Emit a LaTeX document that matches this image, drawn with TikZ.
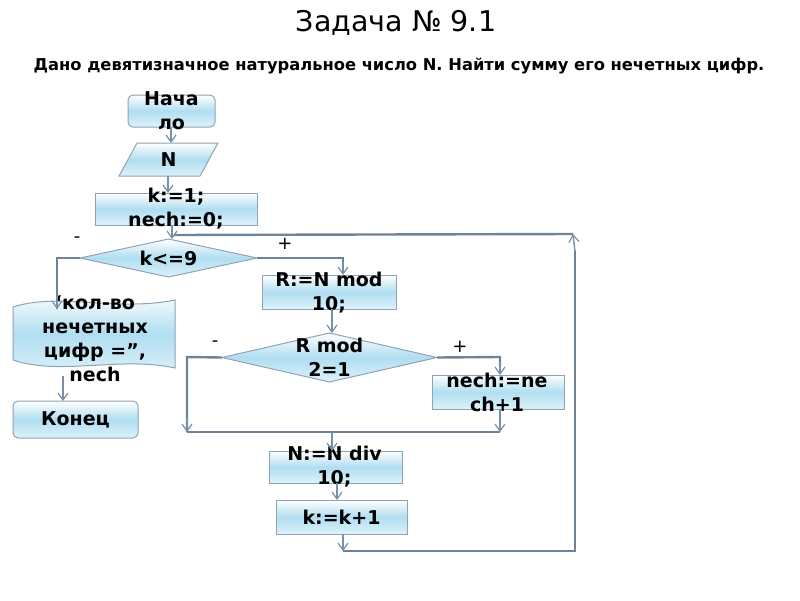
\documentclass[tikz,border=0pt]{standalone}
\usepackage{fontspec}
\setmainfont{DejaVu Sans}
\usetikzlibrary{shapes.geometric,arrows.meta}
\definecolor{bordc}{HTML}{8FA3B5}
\definecolor{linec}{HTML}{6E8395}
\definecolor{arrc}{HTML}{7890A8}
\definecolor{fillmid}{HTML}{B0DEF1}
\definecolor{fillbot}{HTML}{DDF2FA}
\begin{document}
\begin{tikzpicture}[x=1pt,y=-1pt,
  blk/.style={draw=bordc,line width=1pt,top color=white,bottom color=fillbot,middle color=fillmid,inner sep=0pt,outer sep=0pt},
  rbox/.style={blk,rectangle,minimum width=#1},
  txt/.style={font=\fontsize{19}{24}\selectfont\bfseries,align=center,text=black,inner sep=0pt},
  conn/.style={draw=linec,line width=2.4pt},
  arr/.style={draw=arrc,line width=1.4pt,-{Straight Barb[length=7pt,width=10pt,line width=1.2pt]}},
  sgn/.style={font=\fontsize{18}{20}\selectfont,text=black,inner sep=0pt}
]
\useasboundingbox (0,0) rectangle (800,600);
\node[font=\fontsize{28.5}{30}\selectfont] (title) at (396,23) {Задача № 9.1};
\node[font=\fontsize{16.3}{18}\selectfont\bfseries] (sub) at (399,66) {Дано девятизначное натуральное число N. Найти сумму его нечетных цифр.};

% blocks
\node[blk,rectangle,rounded corners=5pt,minimum width=87pt,minimum height=32pt,
  label={[txt,name=startt]center:Нача\\ло}] (start) at (171.5,111) {};
\path[blk] (137,143) -- (218,143) -- (200,176) -- (119,176) -- cycle;
\node[txt] (inp) at (168.5,159.5) {N};
\node[rbox=162pt,minimum height=32pt,label={[txt,name=initt]center:k:=1;\\nech:=0;}] (init) at (176,209) {};
\node[blk,diamond,minimum width=177pt,minimum height=38pt,label={[txt,name=dec1t]center:k<=9}] (dec1) at (168.5,258) {};
\node[rbox=134pt,minimum height=34pt,label={[txt,name=r1t,yshift=-0.5pt]center:R:=N mod\\10;}] (r1) at (329,292) {};
\node[blk,diamond,minimum width=215pt,minimum height=49pt,label={[txt,name=dec2t]center:R mod\\2=1}] (dec2) at (329.5,357.5) {};
\node[rbox=132pt,minimum height=34pt,label={[txt,name=inct,xshift=-1pt]center:nech:=ne\\ch+1}] (inc) at (498,392) {};
\node[rbox=133pt,minimum height=32pt,label={[txt,name=ndivt,xshift=-1pt]center:N:=N div\\10;}] (ndiv) at (335.5,467) {};
\node[rbox=131pt,minimum height=34pt,label={[txt,name=kinct]center:k:=k+1}] (kinc) at (341.5,517) {};
\node[blk,rectangle,rounded corners=5pt,minimum width=125pt,minimum height=37pt,
  label={[txt,name=endt]center:Конец}] (end) at (75.5,419.5) {};

% document shape
\path[blk] (13,307) .. controls (60,292) and (115,312) .. (175,300) -- (175,368)
  .. controls (120,356) and (60,376) .. (13,360) -- cycle;
\node[txt] (doc) at (95,339) {‘кол-во\\нечетных\\цифр =”,\\nech};
\coordinate (doctop) at (57,309);
\coordinate (docbot) at (63,376);

% signs
\node[sgn] (m1) at (77,240) {-};
\node[sgn] (p1) at (285,244) {+};
\node[sgn] (m2) at (215,344) {-};
\node[sgn] (p2) at (460,347) {+};

% coordinates
\coordinate (d1l) at (57,258);
\coordinate (d1r) at (343,258);
\coordinate (d2l) at (187,357);
\coordinate (d2r) at (500,357);
\coordinate (jl) at (187,432);
\coordinate (jr) at (500,432);
\coordinate (jm) at (332,432);
\coordinate (lb) at (343,551);
\coordinate (lr) at (575,551);
\coordinate (lt) at (573,234);
\coordinate (ll) at (174,235);

% connectors
\draw[conn] (dec1.west) -- (d1l) -- (d1l |- doctop);
\draw[arr] (d1l |- 0,296) -- (doctop);
\draw[conn] (dec1.east) -- (d1r) -- (d1r |- 0,268);
\draw[arr] (d1r |- 0,262) -- (d1r |- r1.north);
\draw[conn] (dec2.west) -- (d2l) -- (jl);
\draw[arr] (187,418) -- (jl);
\draw[conn] (dec2.east) -- (d2r) -- (500,366);
\draw[arr] (500,362) -- (d2r |- inc.north);
\draw[arr] (inc.south -| jr) -- (jr);
\draw[conn] (jl) -- (jr);
\draw[arr] (jm) -- (jm |- ndiv.north);
\draw[arr] (337,483) -- (337,500);
\draw[arr] (kinc.south -| lb) -- (lb);
\draw[conn] (lb) -- (lr) -- (575,250);
\draw[arr] (575,252) -- (lt);
\draw[conn] (lt) -- (ll);
\draw[arr] (171,127) -- (171,143);
\draw[arr] (168,176) -- (168,193);
\draw[arr] (172,225) -- (172,239);
\draw[arr] (332,309) -- (332,333);
\draw[arr] (docbot) -- (end.north -| docbot);
\end{tikzpicture}
\end{document}
